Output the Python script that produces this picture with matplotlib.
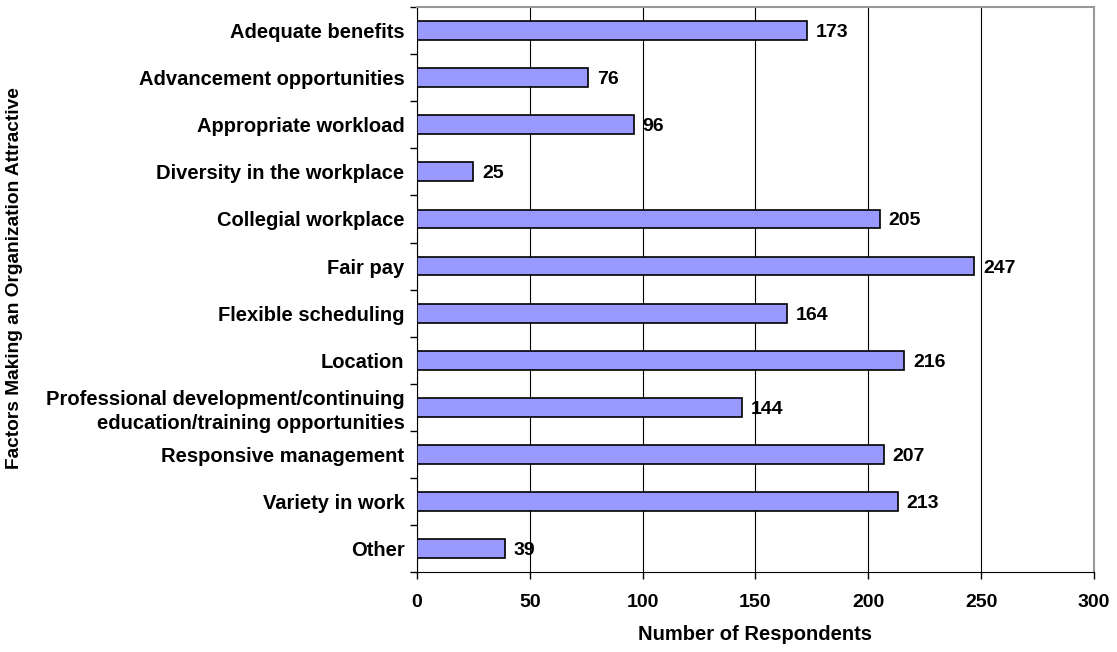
import numpy as np
import matplotlib.pyplot as plt

# factors and respondent counts
factors = ["Adequate benefits", "Advancement opportunities", "Appropriate workload",
           "Diversity in the workplace", "Collegial workplace", "Fair pay",
           "Flexible scheduling", "Location",
           "Professional development/continuing\neducation/training opportunities",
           "Responsive management", "Variety in work", "Other"]
counts = [173, 76, 96, 25, 205, 247, 164, 216, 144, 207, 213, 39]
x_ticks = [0, 50, 100, 150, 200, 250, 300]

plt.rcParams['font.family'] = ['Liberation Sans', 'DejaVu Sans']
plt.rcParams['font.weight'] = 'bold'

fig = plt.figure(figsize=(11.17, 6.52), dpi=100)
ax = fig.add_axes([0.3733, 0.1227, 0.6061, 0.8663])

y = np.arange(len(factors))
ax.barh(y, counts, height=0.4, color='#9999FF', edgecolor='black', linewidth=1.2, zorder=3)
for yi, c in zip(y, counts):
    ax.text(c + 3.8, yi, str(c), va='center_baseline', ha='left', fontsize=14,
            fontweight='bold', zorder=4)

ax.set_ylim(len(factors) - 0.5, -0.5)
ax.set_xlim(0, 300)
ax.set_xticks(x_ticks)
ax.set_yticks(y)
ax.set_yticklabels(factors, fontsize=14.5, fontweight='bold', linespacing=1.3)
ax.set_yticks(np.arange(len(factors) + 1) - 0.5, minor=True)
ax.tick_params(axis='y', which='major', length=0, pad=9)
ax.tick_params(axis='y', which='minor', length=5, width=1, direction='out')
ax.tick_params(axis='x', length=5, width=1, direction='out', labelsize=14, pad=11)
for lbl in ax.get_xticklabels():
    lbl.set_fontweight('bold')

ax.grid(axis='x', color='black', linewidth=0.8, zorder=0)
ax.spines['left'].set_color('black')
ax.spines['bottom'].set_color('black')
ax.spines['top'].set_color('#999999')
ax.spines['right'].set_color('#999999')
ax.spines['top'].set_linewidth(1.5)
ax.spines['right'].set_linewidth(1.5)

ax.set_xlabel("Number of Respondents", fontsize=14.5, fontweight='bold', labelpad=10)
fig.text(0.0134, 0.574, "Factors Making an Organization Attractive", rotation=90,
         va='center', ha='center', fontsize=13.8, fontweight='bold')

plt.savefig("out.png", dpi=100)
